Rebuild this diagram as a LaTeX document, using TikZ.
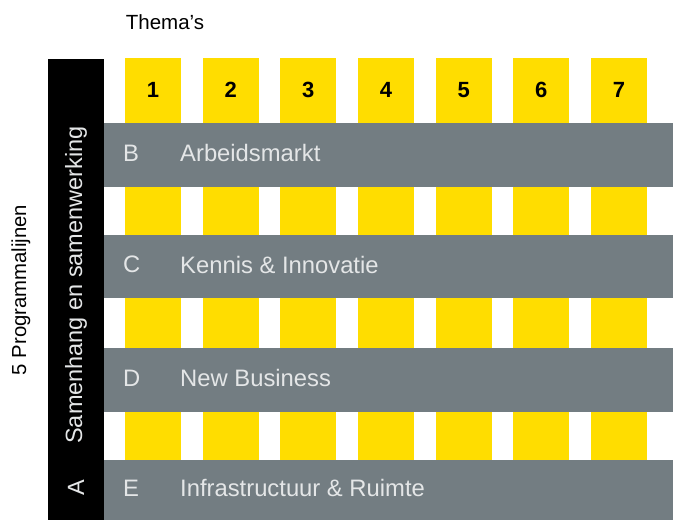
\documentclass[tikz,border=0pt]{standalone}
\usepackage{fontspec}
\setmainfont{Liberation Sans}
\usepackage{xcolor}

\begin{document}
\begin{tikzpicture}[x=1pt,y=-1pt,
  themanode/.style={fill=themeyellow,minimum width=56,minimum height=462,inner sep=0,outer sep=0,anchor=north},
  lijnnode/.style={fill=lijngray,minimum width=569,inner sep=0,outer sep=0,anchor=west},
  lijntext/.style={text=lijntxt,anchor=west,inner sep=0,font=\fontsize{23.8}{26}\selectfont},
  numtext/.style={font=\bfseries\fontsize{22}{26}\selectfont,inner sep=0}]
\definecolor{themeyellow}{HTML}{FFDD00}
\definecolor{lijngray}{HTML}{737D82}
\definecolor{lijntxt}{HTML}{E4E6E7}
\useasboundingbox (0,0) rectangle (673,520);
\node (thema) at (165,22) {\fontsize{20.5}{24}\selectfont Thema's};
\node [fill=black,minimum width=56,minimum height=461,inner sep=0,outer sep=0,anchor=north west] (kader) at (48,59) {};
  \foreach \pos in {1,...,7}
  {  \node [themanode] (col\pos) at (153+77.67*\pos-77.67,58) {};
     \node [numtext] (num\pos) at (153+77.67*\pos-77.67,90) {\pos};}
  \foreach \ltr/\naam/\mid/\hgt in {B/Arbeidsmarkt/155/64,C/Kennis \& Innovatie/266.5/63,D/New Business/380/64,E/Infrastructuur \& Ruimte/490/60}
  {  \node [lijnnode,minimum height=\hgt] (band\ltr) at (104,\mid) {};
     \node [lijntext] (ltr\ltr) at (123,\mid-2) {\ltr};
     \node [lijntext] (naam\ltr) at (180,\mid-2) {\naam};}
\node [rotate=90,text=lijntxt,font=\fontsize{23.5}{26}\selectfont] (samen) at (76,285) {Samenhang en samenwerking};
\node [rotate=90,text=lijntxt,font=\fontsize{23.5}{26}\selectfont] (ltrA) at (76,488) {A};
\node [rotate=90,font=\fontsize{20.3}{24}\selectfont] (prog) at (21,290) {5 Programmalijnen};
\end{tikzpicture}
\end{document}
